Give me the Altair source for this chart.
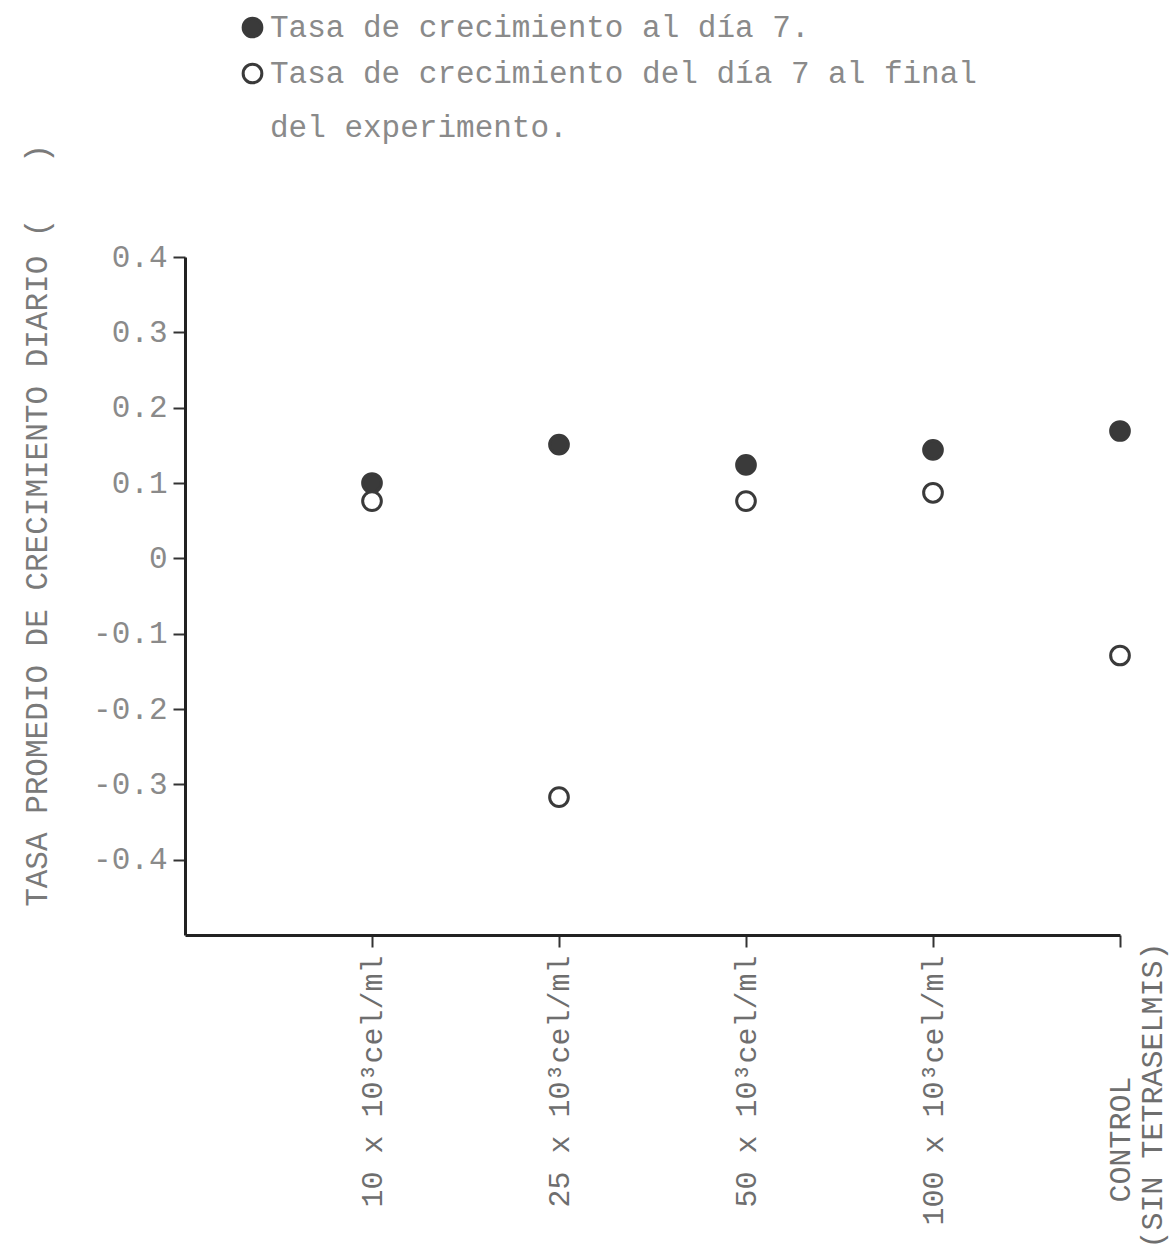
import altair as alt
import pandas as pd

categories = ["10 x 10³cel/ml", "25 x 10³cel/ml", "50 x 10³cel/ml",
              "100 x 10³cel/ml", "CONTROL|(SIN TETRASELMIS)"]
series_names = ["Tasa de crecimiento al día 7.",
                "Tasa de crecimiento del día 7 al final|del experimento."]
rate_day7 = [0.100, 0.151, 0.124, 0.144, 0.169]
rate_after7 = [0.076, -0.317, 0.076, 0.087, -0.129]
y_ticks = [-0.4, -0.3, -0.2, -0.1, 0.0, 0.1, 0.2, 0.3, 0.4]

rows = []
for i, c in enumerate(categories):
    rows.append({"pos": i + 1, "cat": c, "serie": series_names[0], "v": rate_day7[i]})
    rows.append({"pos": i + 1, "cat": c, "serie": series_names[1], "v": rate_after7[i]})
df = pd.DataFrame(rows)

BLANK = "\u2800"

def js_label(s):
    parts = s.split("|")
    if len(parts) == 1:
        return "'" + parts[0] + "'"
    return "['" + parts[0] + BLANK * 4 + "','" + parts[1] + "']"

x_expr = "[" + ",".join(js_label(c) for c in categories) + "][datum.value - 1]"
l2 = series_names[1].split("|")
leg_expr = ("datum.label == '" + series_names[0] + "' ? '" + series_names[0] +
            "' : ['" + l2[0] + "', '" + l2[1] + "']")

FONT = "Liberation Mono"
INK = "#3a3a3a"
last = len(categories)

chart = alt.Chart(df).mark_point(
    filled=True, shape="circle", size=350, stroke=INK, strokeWidth=3, opacity=1
).encode(
    x=alt.X("pos:Q", scale=alt.Scale(domain=[0, last], nice=False, zero=False),
            axis=alt.Axis(values=list(range(1, last + 1)), labelExpr=x_expr, labelAngle=270,
                          labelAlign={"condition": {"test": f"datum.value == {last}", "value": "center"}, "value": "right"},
                          labelPadding={"condition": {"test": f"datum.value == {last}", "value": 148}, "value": 8},
                          labelBaseline="middle", labelLineHeight=32,
                          labelLimit=600, labelFont=FONT, labelFontSize=30,
                          labelColor="#6e6e6e", title=None, grid=False,
                          domainColor="#222", domainWidth=3, tickColor="#333",
                          tickWidth=2, tickSize=12)),
    y=alt.Y("v:Q", scale=alt.Scale(domain=[-0.5, 0.4], nice=False, zero=False),
            axis=alt.Axis(values=y_ticks,
                          labelExpr="datum.value == 0 ? '0' : (datum.value < 0 ? '-' : '') + format(abs(datum.value), '.1f')",
                          labelFont=FONT, labelFontSize=31, labelColor="#8a8a8a",
                          labelPadding=6, grid=False, domainColor="#222", domainWidth=3,
                          tickColor="#333", tickWidth=2, tickSize=12,
                          title="TASA PROMEDIO DE CRECIMIENTO DIARIO ( \u00a0 )",
                          titleFont=FONT, titleFontSize=31, titleFontWeight="normal",
                          titleColor="#7a7a7a", titleAngle=270, titleAlign="center",
                          titleBaseline="middle", titleX=-148, titleY=268)),
    fill=alt.Fill("serie:N",
                  scale=alt.Scale(domain=series_names, range=[INK, "white"]),
                  legend=alt.Legend(orient="none", legendX=52, legendY=-245, title=None,
                                    labelExpr=leg_expr, labelFont=FONT, labelFontSize=31,
                                    labelColor="#8a8a8a", labelLimit=1000, labelOffset=2,
                                    labelBaseline="middle",
                                    symbolSize=350, symbolStrokeColor=INK,
                                    symbolStrokeWidth=3, rowPadding=14)),
).properties(
    width=935, height=678,
    background="white",
    autosize=alt.AutoSizeParams(type="none"),
    padding={"left": 185, "top": 257, "right": 52, "bottom": 319},
).configure(
    view=alt.ViewConfig(strokeWidth=0),
    style={"guide-label": {"lineHeight": 54}},
)

chart.save("out.html", embed_options={"renderer": "svg", "actions": False})
